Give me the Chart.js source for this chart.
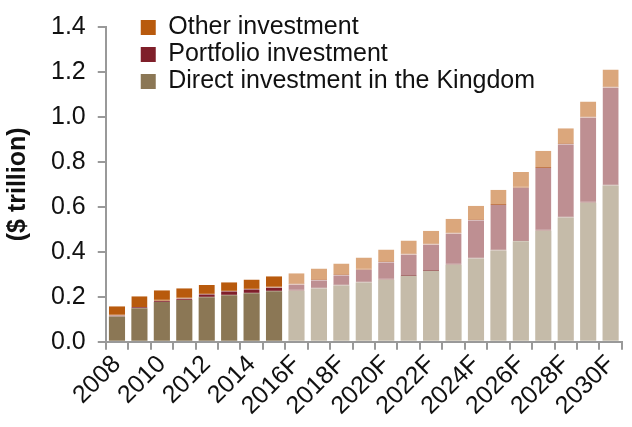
<!DOCTYPE html>
<html>
<head>
<meta charset="utf-8">
<script src="https://cdn.jsdelivr.net/npm/chart.js@4/dist/chart.umd.min.js"></script>
<style>
  html, body { margin: 0; padding: 0; background: #fff; }
  #wrap { width: 632px; height: 427px; }
</style>
</head>
<body>
<div id="wrap"><canvas id="fdiChart"></canvas></div>
<script>
const years = ['2008', '2009', '2010', '2011', '2012', '2013', '2014', '2015',
    '2016F', '2017F', '2018F', '2019F', '2020F', '2021F', '2022F', '2023F',
    '2024F', '2025F', '2026F', '2027F', '2028F', '2029F', '2030F'];

const direct = [0.112, 0.149, 0.177, 0.185, 0.198, 0.207, 0.215, 0.224,
    0.227, 0.236, 0.250, 0.263, 0.276, 0.292, 0.314, 0.342,
    0.370, 0.406, 0.447, 0.494, 0.552, 0.618, 0.695];
const portfolio = [0.004, 0.005, 0.005, 0.007, 0.013, 0.017, 0.018, 0.017,
    0.027, 0.037, 0.045, 0.057, 0.077, 0.096, 0.118, 0.139,
    0.170, 0.202, 0.238, 0.279, 0.326, 0.379, 0.436];
const other = [0.042, 0.048, 0.047, 0.046, 0.041, 0.040, 0.044, 0.050,
    0.050, 0.053, 0.053, 0.055, 0.057, 0.062, 0.062, 0.066,
    0.065, 0.068, 0.070, 0.076, 0.072, 0.072, 0.080];

const yTicks = [0, 0.2, 0.4, 0.6, 0.8, 1.0, 1.2, 1.4];

// first 8 years are actuals, the rest forecast (lighter shades)
const histCount = 8;
function colours(hist, fcst) {
    return years.map((y, i) => i < histCount ? hist : fcst);
}

const directCol = ['#8b7755', '#c5bba9'];
const portCol = ['#7f1f2a', '#be8f92'];
const otherCol = ['#b85a0d', '#dba77c'];
// thin seam at the bottom of the upper segments
const portEdge = ['#7f1f2a', '#a8706f'];
const otherEdge = ['#b85a0d', '#c27a4e'];

// legend sits in the top-left corner, partly above the plot area
const legendShift = {
    id: 'legendShift',
    afterLayout(chart) {
        const lg = chart.legend;
        lg.left += 33;
        lg.right += 33;
        lg.top += 13;
        lg.bottom += 13;
    }
};

const ctx = document.getElementById('fdiChart').getContext('2d');
Chart.defaults.font.family = 'Arial, "Liberation Sans", sans-serif';
Chart.defaults.color = '#111';

const seam = { top: 0, left: 0, right: 0, bottom: 1 };

const fdiChart = new Chart(ctx, {
    type: 'bar',
    data: {
        labels: years,
        datasets: [
            { label: 'Direct investment in the Kingdom', data: direct,
              backgroundColor: colours(directCol[0], directCol[1]), legendColor: directCol[0] },
            { label: 'Portfolio investment', data: portfolio,
              backgroundColor: colours(portCol[0], portCol[1]), legendColor: portCol[0],
              borderColor: colours(portEdge[0], portEdge[1]), borderWidth: seam, borderSkipped: false },
            { label: 'Other investment', data: other,
              backgroundColor: colours(otherCol[0], otherCol[1]), legendColor: otherCol[0],
              borderColor: colours(otherEdge[0], otherEdge[1]), borderWidth: seam, borderSkipped: false }
        ]
    },
    plugins: [legendShift],
    options: {
        responsive: true,
        maintainAspectRatio: false,
        animation: false,
        layout: { padding: { top: 7, right: 8, left: 0, bottom: 6 } },
        datasets: {
            bar: { barPercentage: 0.72, categoryPercentage: 1, borderWidth: 0 }
        },
        scales: {
            x: {
                stacked: true,
                grid: { drawOnChartArea: false, color: '#999', tickLength: 8, lineWidth: 2 },
                border: { color: '#999', width: 2 },
                ticks: {
                    autoSkip: false,
                    maxRotation: 45,
                    minRotation: 45,
                    padding: 0,
                    font: { size: 25 },
                    callback: function(v, i) { return i % 2 === 0 ? years[i] : ''; }
                }
            },
            y: {
                stacked: true,
                min: 0,
                max: 1.4,
                afterBuildTicks: axis => { axis.ticks = yTicks.map(v => ({ value: v })); },
                grid: { drawOnChartArea: false, color: '#999', tickLength: 8, lineWidth: 2 },
                border: { color: '#999', width: 2 },
                ticks: {
                    padding: 12,
                    font: { size: 25 },
                    callback: v => v.toFixed(1)
                },
                title: {
                    display: true,
                    text: '($ trillion)',
                    font: { size: 25, weight: 'bold' },
                    padding: { top: 3, bottom: 6 }
                }
            }
        },
        plugins: {
            tooltip: { enabled: false },
            legend: {
                position: 'chartArea',
                align: 'start',
                reverse: true,
                labels: {
                    boxWidth: 15,
                    boxHeight: 15,
                    padding: 2,
                    font: { size: 25 },
                    generateLabels: function(chart) {
                        const items = Chart.defaults.plugins.legend.labels.generateLabels(chart);
                        items.forEach(it => {
                            const c = chart.data.datasets[it.datasetIndex].legendColor;
                            it.fillStyle = c;
                            it.strokeStyle = c;
                            it.lineWidth = 0;
                        });
                        return items;
                    }
                }
            }
        }
    }
});
</script>
</body>
</html>
